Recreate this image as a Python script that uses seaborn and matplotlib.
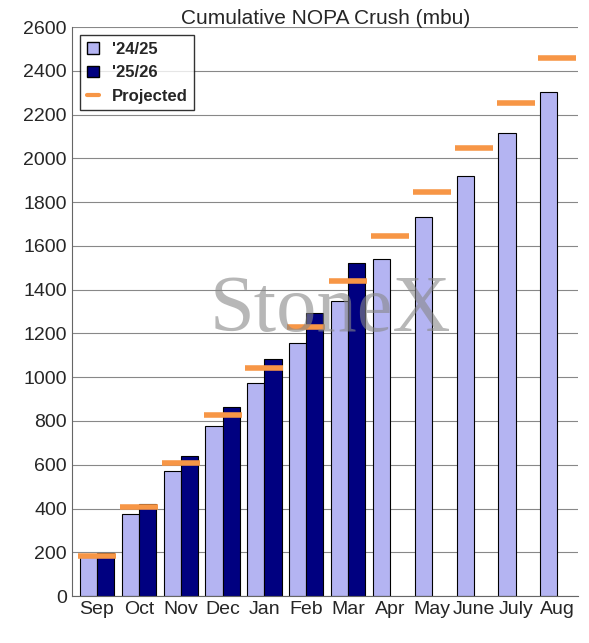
import numpy as np
import pandas as pd
import matplotlib
matplotlib.use("Agg")
import matplotlib.pyplot as plt
import seaborn as sns
from matplotlib.patches import Patch
from matplotlib.lines import Line2D

months = ['Sep', 'Oct', 'Nov', 'Dec', 'Jan', 'Feb', 'Mar', 'Apr', 'May', 'June', 'July', 'Aug']
crush_2425 = [180, 375, 570, 775, 975, 1155, 1350, 1540, 1730, 1920, 2115, 2305]
crush_2526 = [195, 420, 640, 865, 1085, 1295, 1520, np.nan, np.nan, np.nan, np.nan, np.nan]
projected = [185, 405, 610, 825, 1040, 1230, 1440, 1645, 1845, 2045, 2255, 2460]

df = pd.DataFrame({
    'Month': months * 2,
    'Crush': crush_2425 + crush_2526,
    'Year': ["'24/25"] * 12 + ["'25/26"] * 12,
})

sns.set_style('white')
plt.rcParams['font.family'] = ['Liberation Sans', 'DejaVu Sans']

fig = plt.figure(figsize=(5.89, 6.43), dpi=100)
ax = fig.add_axes([0.122, 0.073, 0.86, 0.885])

ax.yaxis.grid(True, color='#888888', linewidth=0.8)
ax.set_axisbelow(True)

colors = {"'24/25": '#b4b4f2', "'25/26": '#000080'}
sns.barplot(data=df, x='Month', y='Crush', hue='Year', palette=colors, saturation=1,
            edgecolor='black', linewidth=0.8, width=0.82, ax=ax, legend=False)

ax.plot(range(len(months)), projected, linestyle='none', marker='_',
        markersize=28, markeredgewidth=4, color='#f79646')

ax.text(0.51, 0.5, 'StoneX', transform=ax.transAxes, fontsize=58,
        family='Liberation Serif', color='#888888', alpha=0.6, ha='center', va='center')

ax.set_ylim(0, 2600)
ax.set_yticks(range(0, 2601, 200))
ax.set_xlim(-0.6, 11.5)
ax.set_xlabel('')
ax.set_ylabel('')
ax.tick_params(axis='both', labelsize=14, length=0)
ax.set_title('Cumulative NOPA Crush (mbu)', fontsize=15, pad=2)
for s in ['top', 'right']:
    ax.spines[s].set_visible(False)
for s in ['left', 'bottom']:
    ax.spines[s].set_color('#666666')

handles = [Patch(facecolor=colors["'24/25"], edgecolor='black', label="'24/25"),
           Patch(facecolor=colors["'25/26"], edgecolor='black', label="'25/26"),
           Line2D([0], [0], color='#f79646', linewidth=3, label='Projected')]
leg = ax.legend(handles=handles, loc='upper left', frameon=True,
                fancybox=False, edgecolor='black', handlelength=0.7,
                prop={'weight': 'bold', 'size': 12})
leg.get_frame().set_linewidth(1)

fig.savefig('out.png', dpi=100)
